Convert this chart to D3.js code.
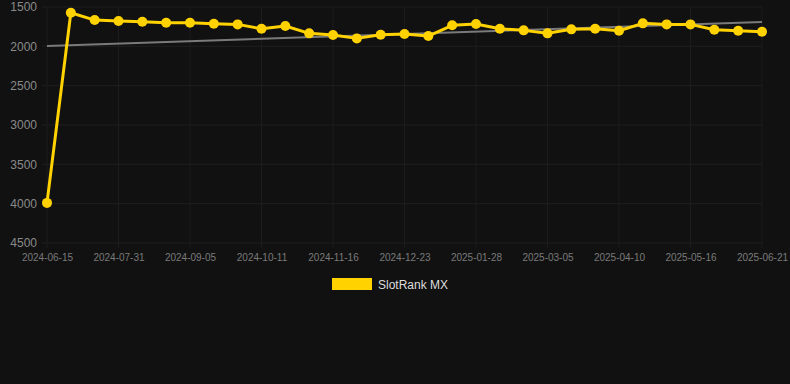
<!DOCTYPE html>
<html>
<head>
<meta charset="utf-8">
<script src="https://cdn.jsdelivr.net/npm/d3@7"></script>
<style>
  html, body { margin: 0; padding: 0; background: #111111; }
  svg { display: block; font-family: "Liberation Sans", Arial, sans-serif; }
</style>
</head>
<body>
<svg id="chart" width="790" height="384"></svg>
<script>
// categories: one point roughly every 12 days, every third one is labelled
const dates = [
  "2024-06-15", "2024-06-30", "2024-07-16", "2024-07-31", "2024-08-12", "2024-08-24",
  "2024-09-05", "2024-09-17", "2024-09-29", "2024-10-11", "2024-10-23", "2024-11-04",
  "2024-11-16", "2024-11-28", "2024-12-11", "2024-12-23", "2025-01-04", "2025-01-16",
  "2025-01-28", "2025-02-09", "2025-02-21", "2025-03-05", "2025-03-17", "2025-03-29",
  "2025-04-10", "2025-04-22", "2025-05-04", "2025-05-16", "2025-05-28", "2025-06-09",
  "2025-06-21"
];
const tickLabels = dates.filter((d, i) => i % 3 === 0);

// rank values (lower is better, axis reversed)
const rankMX = [
  3990, 1573, 1666, 1678, 1687, 1700, 1700, 1712, 1721, 1777, 1742, 1835,
  1857, 1899, 1853, 1844, 1869, 1733, 1717, 1776, 1797, 1835, 1784, 1776,
  1802, 1708, 1721, 1721, 1789, 1802, 1814
];

// trend line end points
const trendStart = 1995;
const trendEnd = 1690;

const yTicks = [1500, 2000, 2500, 3000, 3500, 4000, 4500];

const svg = d3.select("#chart");
const margin = { top: 7, left: 47, right: 28, bottom: 141 };
const width = 790 - margin.left - margin.right;
const height = 384 - margin.top - margin.bottom;

const g = svg.append("g").attr("transform", `translate(${margin.left},${margin.top})`);

const x = d3.scalePoint().domain(dates).range([0, width]);
const y = d3.scaleLinear().domain([1500, 4500]).range([0, height]);

// grid
g.append("g")
  .selectAll("line.hgrid")
  .data(yTicks)
  .join("line")
  .attr("x1", -5).attr("x2", width)
  .attr("y1", (d) => y(d)).attr("y2", (d) => y(d))
  .attr("stroke", "#1f1f1f").attr("stroke-width", 1);

g.append("g")
  .selectAll("line.vgrid")
  .data(tickLabels)
  .join("line")
  .attr("x1", (d) => x(d)).attr("x2", (d) => x(d))
  .attr("y1", 0).attr("y2", height + 5)
  .attr("stroke", "#1c1c1c").attr("stroke-width", 1);

// y axis labels
const yAxis = g.append("g")
  .call(d3.axisLeft(y).tickValues(yTicks).tickSize(0).tickPadding(10).tickFormat(d3.format("d")));
yAxis.select(".domain").remove();
yAxis.selectAll("text")
  .attr("fill", "#8a8a8a")
  .style("font-size", "12px");

// x axis labels
const xAxis = g.append("g")
  .attr("transform", `translate(0,${height})`)
  .call(d3.axisBottom(x).tickValues(tickLabels).tickSize(0).tickPadding(11));
xAxis.select(".domain").remove();
xAxis.selectAll("text")
  .attr("fill", "#7a7a7a")
  .style("font-size", "10px");

// trend line
g.append("line")
  .attr("x1", x(dates[0])).attr("y1", y(trendStart))
  .attr("x2", x(dates[dates.length - 1])).attr("y2", y(trendEnd))
  .attr("stroke", "#7a7a7a").attr("stroke-width", 2);

// series line
const line = d3.line()
  .x((d, i) => x(dates[i]))
  .y((d) => y(d));

g.append("path")
  .datum(rankMX)
  .attr("d", line)
  .attr("fill", "none")
  .attr("stroke", "#FFD200")
  .attr("stroke-width", 3)
  .attr("stroke-linejoin", "round");

g.append("g")
  .selectAll("circle")
  .data(rankMX)
  .join("circle")
  .attr("cx", (d, i) => x(dates[i]))
  .attr("cy", (d) => y(d))
  .attr("r", 5)
  .attr("fill", "#FFD200");

// legend
const legend = svg.append("g").attr("transform", "translate(332,278)");
legend.append("rect")
  .attr("width", 40).attr("height", 12)
  .attr("fill", "#FFD200");
legend.append("text")
  .attr("x", 46).attr("y", 10.5)
  .attr("fill", "#dddddd")
  .style("font-size", "12px")
  .text("SlotRank MX");
</script>
</body>
</html>
